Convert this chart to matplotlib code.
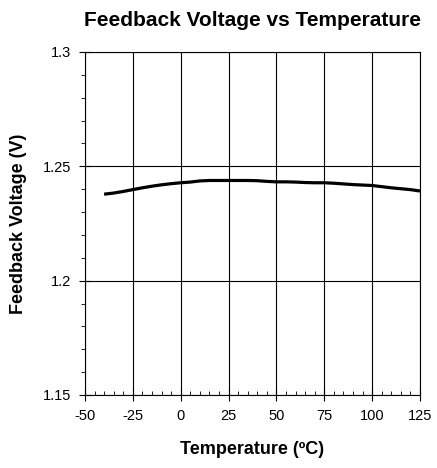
import numpy as np
import matplotlib.pyplot as plt
from matplotlib.ticker import MultipleLocator

plt.rcParams['font.family'] = ['Liberation Sans', 'DejaVu Sans']

# temperature (degC) and feedback voltage (V)
temps = [-40, -35, -30, -25, -20, -15, -10, -5, 0, 5, 10, 15, 20, 25, 30, 35, 40,
         45, 50, 55, 60, 65, 70, 75, 80, 85, 90, 95, 100, 105, 110, 115, 120, 125]
vfb = [1.2378, 1.2383, 1.2390, 1.2398, 1.2406, 1.2413, 1.2419, 1.2424, 1.2428,
       1.2431, 1.2436, 1.2438, 1.2438, 1.2438, 1.2438, 1.2438, 1.2437, 1.2434,
       1.2432, 1.2432, 1.2431, 1.2429, 1.2428, 1.2428, 1.2426, 1.2423, 1.2420,
       1.2418, 1.2416, 1.2411, 1.2406, 1.2402, 1.2398, 1.2392]

x_ticks = [-50, -25, 0, 25, 50, 75, 100, 125]
y_ticks = [1.15, 1.2, 1.25, 1.3]
y_labels = ["1.15", "1.2", "1.25", "1.3"]

fig = plt.figure(figsize=(4.37, 4.68), dpi=100)
ax = fig.add_axes([0.1945, 0.1560, 0.7665, 0.7330])

ax.plot(temps, vfb, color="black", linewidth=2.3, solid_capstyle="butt")

ax.set_xlim(-50, 125)
ax.set_ylim(1.15, 1.3)
ax.set_xticks(x_ticks)
ax.set_xticklabels([str(t) for t in x_ticks])
ax.set_yticks(y_ticks)
ax.set_yticklabels(y_labels)
ax.xaxis.set_minor_locator(MultipleLocator(5))
ax.yaxis.set_minor_locator(MultipleLocator(0.01))

ax.grid(True, which="major", color="black", linewidth=0.8)
for s in ax.spines.values():
    s.set_linewidth(0.8)
    s.set_color("black")

ax.tick_params(axis="both", which="major", direction="inout", length=8, width=0.8,
               labelsize=10.5, pad=6)
ax.tick_params(axis="x", which="minor", direction="in", length=3, width=0.6)
ax.tick_params(axis="y", which="minor", direction="out", length=3, width=0.6)

ax.set_xlabel("Temperature (ºC)", fontsize=13, fontweight="bold", labelpad=13)
ax.set_ylabel("Feedback Voltage (V)", fontsize=13, fontweight="bold", labelpad=11)
ax.set_title("Feedback Voltage vs Temperature", fontsize=15, fontweight="bold", pad=19)

fig.savefig("out.png", dpi=100)
